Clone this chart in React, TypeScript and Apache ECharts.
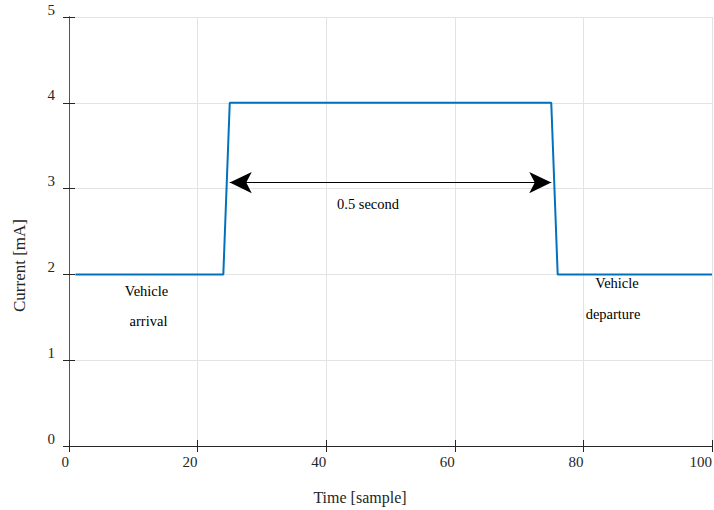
import React, { useEffect, useRef } from "react";
import * as echarts from "echarts";

const sampleX = [1, 24, 25, 75, 76, 100];
const currentMA = [2, 2, 4, 4, 2, 2];
const xTicks = [0, 20, 40, 60, 80, 100];
const yTicks = [0, 1, 2, 3, 4, 5];
const arrowStart = [25, 3.07];
const arrowEnd = [75, 3.07];
const xTitle = "Time [sample]";
const yTitle = "Current [mA]";
const durationLabel = "0.5 second";
const arrivalLabel = ["Vehicle", "arrival"];
const departureLabel = ["Vehicle", "departure"];

const FONT = "Liberation Serif";
const AX = "#262626";

export default function App() {
  const ref = useRef<HTMLDivElement>(null);
  useEffect(() => {
    if (!ref.current) return;
    const chart = echarts.init(ref.current, undefined, { renderer: "svg" });
    const data = sampleX.map((x, i) => [x, currentMA[i]]);
    const txt = (x: number, y: number, t: string, size = 14.5, color = "#000", rot = 0) => ({
      type: "text",
      x,
      y,
      rotation: rot,
      style: {
        text: t,
        fill: color,
        fontFamily: FONT,
        fontSize: size,
        align: "center",
        verticalAlign: "middle",
      },
    });
    chart.setOption({
      animation: false,
      grid: { left: 69, right: 2, top: 17, bottom: 64, outerBoundsMode: "none", containLabel: false },
      xAxis: [
        {
          type: "value",
          min: xTicks[0],
          max: xTicks[xTicks.length - 1],
          interval: 20,
          position: "bottom",
          axisLine: { show: true, lineStyle: { color: AX, width: 1 } },
          axisTick: { show: true, inside: true, length: 6, lineStyle: { color: AX } },
          axisLabel: {
            color: AX,
            fontFamily: FONT,
            fontSize: 15,
            margin: 8,
            align: "right",
            hideOverlap: false,
          },
          splitLine: { show: true, lineStyle: { color: "#e3e3e3", width: 1 } },
        },
        {
          type: "value",
          min: xTicks[0],
          max: xTicks[xTicks.length - 1],
          interval: 20,
          position: "top",
          axisLine: { show: true, lineStyle: { color: AX, width: 1 } },
          axisTick: { show: true, inside: true, length: 6, lineStyle: { color: AX } },
          axisLabel: { show: false },
          splitLine: { show: false },
        },
      ],
      yAxis: [
        {
          type: "value",
          min: yTicks[0],
          max: yTicks[yTicks.length - 1],
          interval: 1,
          position: "left",
          axisLine: { show: true, lineStyle: { color: AX, width: 1 } },
          axisTick: { show: true, inside: true, length: 6, lineStyle: { color: AX } },
          axisLabel: {
            color: AX,
            fontFamily: FONT,
            fontSize: 15,
            margin: 14,
            verticalAlign: "bottom",
            lineHeight: 15,
          },
          splitLine: { show: true, lineStyle: { color: "#e3e3e3", width: 1 } },
        },
        {
          type: "value",
          min: yTicks[0],
          max: yTicks[yTicks.length - 1],
          interval: 1,
          position: "right",
          axisLine: { show: true, lineStyle: { color: "#555", width: 1 } },
          axisTick: { show: true, inside: true, length: 6, lineStyle: { color: AX } },
          axisLabel: { show: false },
          splitLine: { show: false },
        },
      ],
      series: [
        {
          type: "line",
          data,
          xAxisIndex: 0,
          yAxisIndex: 0,
          showSymbol: false,
          symbol: "none",
          lineStyle: { color: "#0072BD", width: 2 },
          z: 3,
          markLine: {
            silent: true,
            symbol: ["arrow", "arrow"],
            symbolSize: [16, 22],
            label: { show: false },
            lineStyle: { color: "#000", width: 1.2, type: "solid" },
            itemStyle: { color: "#000" },
            data: [[{ coord: arrowStart }, { coord: arrowEnd }]],
          },
        },
      ],
      graphic: [
        txt(368, 204, durationLabel),
        txt(146.5, 291, arrivalLabel[0]),
        txt(148.5, 321, arrivalLabel[1]),
        txt(617, 283, departureLabel[0]),
        txt(613, 314, departureLabel[1]),
        txt(360, 497, xTitle, 16, AX),
        txt(19.5, 265.5, yTitle, 17, AX, Math.PI / 2),
      ],
    });
    return () => chart.dispose();
  }, []);
  return (
    <div
      ref={ref}
      style={{ position: "fixed", left: 0, top: 0, width: 714, height: 510, background: "#fff" }}
    />
  );
}
